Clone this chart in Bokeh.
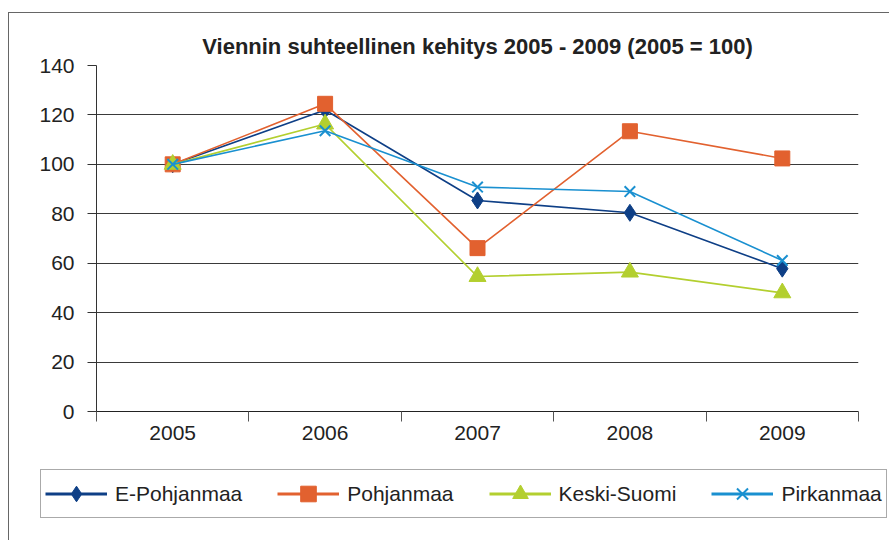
from bokeh.plotting import figure
from bokeh.models import Range1d, FixedTicker, Legend, LegendItem
from bokeh.embed import file_html
from bokeh.resources import INLINE

# ---- data ----
years = ["2005", "2006", "2007", "2008", "2009"]
e_pohjanmaa = [100, 122, 85.4, 80.4, 57.8]
pohjanmaa = [100, 124.5, 66.1, 113.4, 102.4]
keski_suomi = [100, 116.3, 54.6, 56.4, 48.0]
pirkanmaa = [100, 113.6, 90.8, 89.0, 61.1]
y_ticks = [0, 20, 40, 60, 80, 100, 120, 140]
title_text = "Viennin suhteellinen kehitys 2005 - 2009 (2005 = 100)"

FONT = "Liberation Sans"
xs = [i + 0.5 for i in range(len(years))]

p = figure(width=881, height=455, output_backend="svg", toolbar_location=None,
           x_range=Range1d(0, len(years)), y_range=Range1d(y_ticks[0], y_ticks[-1]),
           min_border_left=87, min_border_right=32, min_border_top=52, min_border_bottom=57,
           title=title_text)
p.outline_line_color = None
p.background_fill_color = "white"
p.border_fill_color = "white"
p.styles = {"margin-left": "8px", "margin-top": "12px",
            "border-top": "1px solid #666", "border-left": "1px solid #666"}

p.title.text_font = FONT
p.title.text_font_size = "22px"
p.title.text_font_style = "bold"
p.title.text_color = "#222222"
p.title.align = "center"
p.title.standoff = 14

# x axis: labels at category centres, tick marks at category boundaries
xa = p.xaxis[0]
xa.ticker = FixedTicker(ticks=xs, minor_ticks=list(range(len(years) + 1)))
xa.major_label_overrides = {x: y for x, y in zip(xs, years)}
xa.major_tick_line_color = None
xa.major_tick_out = 0
xa.major_tick_in = 0
xa.minor_tick_line_color = "#555555"
xa.minor_tick_out = 10
xa.minor_tick_in = 0
xa.axis_line_color = "#222222"
xa.major_label_text_font = FONT
xa.major_label_text_font_size = "21px"
xa.major_label_text_color = "#222222"
xa.major_label_standoff = 4

ya = p.yaxis[0]
ya.ticker = FixedTicker(ticks=y_ticks)
ya.minor_tick_line_color = None
ya.major_tick_out = 9
ya.major_tick_in = 0
ya.major_tick_line_color = "#333333"
ya.axis_line_color = "#333333"
ya.major_label_text_font = FONT
ya.major_label_text_font_size = "21px"
ya.major_label_text_color = "#222222"
ya.major_label_standoff = 13

p.xgrid.grid_line_color = None
p.ygrid.grid_line_color = "#3a3a3a"
p.ygrid.grid_line_width = 1

series = [
    ("E-Pohjanmaa", e_pohjanmaa, "#0E3F86", "diamond", 17),
    ("Pohjanmaa", pohjanmaa, "#E2612F", "square", 15),
    ("Keski-Suomi", keski_suomi, "#B3CF2F", "triangle", 17),
    ("Pirkanmaa", pirkanmaa, "#1A90D0", "x", 15),
]

# legend strip below the chart (its own small figure, no axes)
q = figure(width=881, height=73, output_backend="svg", toolbar_location=None,
           x_range=Range1d(0, 1), y_range=Range1d(0, 1),
           x_axis_location=None, y_axis_location=None,
           min_border=0, min_border_left=0, min_border_right=0,
           min_border_top=0, min_border_bottom=0)
q.grid.grid_line_color = None
q.outline_line_color = None
q.background_fill_color = "white"
q.border_fill_color = "white"
q.styles = {"margin-left": "8px", "border-left": "1px solid #666"}

items = []
for name, vals, col, marker, size in series:
    p.line(xs, vals, line_color=col, line_width=1.6)
    if marker == "x":
        p.scatter(xs, vals, marker=marker, size=size, line_color=col, line_width=2)
        ls = q.scatter(xs, vals, marker=marker, line_color=col, line_width=2, visible=False)
    else:
        p.scatter(xs, vals, marker=marker, size=size, fill_color=col, line_color=col)
        ls = q.scatter(xs, vals, marker=marker, fill_color=col, line_color=col, visible=False)
    ll = q.line(xs, vals, line_color=col, line_width=3, visible=False)
    items.append(LegendItem(label=name, renderers=[ll, ls]))

legend = Legend(items=items, orientation="horizontal", location=(31, 22),
                border_line_color="#555555", border_line_width=1,
                padding=4, spacing=35, glyph_width=62, glyph_height=39,
                label_standoff=8, margin=0, click_policy="none",
                label_text_font=FONT, label_text_font_size="21px",
                label_text_color="#222222", background_fill_alpha=1,
                inactive_fill_alpha=0)
q.add_layout(legend, "center")

open("out.html", "w").write(file_html([p, q], INLINE))
